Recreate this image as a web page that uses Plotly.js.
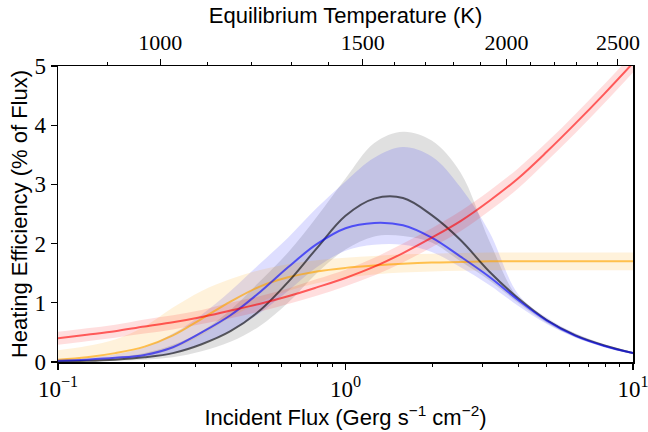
<!DOCTYPE html>
<html>
<head>
<meta charset="utf-8">
<script src="https://cdn.plot.ly/plotly-3.0.1.min.js"></script>
<style>html,body{margin:0;padding:0;background:#fff;}#chart{width:648px;height:432px;}</style>
</head>
<body>
<div id="chart"></div>
<script>
// Incident flux (Gerg s^-1 cm^-2)
const flux = [0.1, 0.126, 0.158, 0.2, 0.251, 0.316, 0.398, 0.501, 0.631, 0.794, 1.0,
              1.259, 1.585, 1.995, 2.512, 3.162, 3.981, 5.012, 6.310, 7.943, 10.0];

// Red series
const redMid = [0.40, 0.46, 0.52, 0.60, 0.67, 0.76, 0.87, 0.98, 1.11, 1.26, 1.42,
                1.61, 1.84, 2.10, 2.38, 2.72, 3.10, 3.55, 4.03, 4.53, 5.05];
const redLo  = [0.29, 0.35, 0.41, 0.48, 0.55, 0.64, 0.74, 0.85, 0.98, 1.12, 1.28,
                1.46, 1.68, 1.94, 2.21, 2.55, 2.93, 3.39, 3.87, 4.37, 4.89];
const redHi  = [0.51, 0.57, 0.63, 0.72, 0.79, 0.88, 1.00, 1.11, 1.24, 1.40, 1.56,
                1.76, 2.00, 2.26, 2.55, 2.89, 3.27, 3.71, 4.19, 4.69, 5.21];

// Orange series
const orgMid = [0.04, 0.08, 0.15, 0.26, 0.45, 0.73, 1.02, 1.27, 1.43, 1.53, 1.59,
                1.63, 1.66, 1.68, 1.69, 1.70, 1.70, 1.70, 1.70, 1.70, 1.70];
const orgLo  = [0.00, 0.01, 0.04, 0.10, 0.22, 0.45, 0.75, 1.00, 1.20, 1.33, 1.42,
                1.48, 1.51, 1.53, 1.54, 1.55, 1.55, 1.55, 1.55, 1.55, 1.55];
const orgHi  = [0.20, 0.27, 0.38, 0.60, 0.92, 1.20, 1.40, 1.55, 1.65, 1.72, 1.76,
                1.79, 1.82, 1.83, 1.84, 1.85, 1.85, 1.85, 1.85, 1.85, 1.85];

// Blue series
const bluMid = [0.02, 0.04, 0.07, 0.12, 0.25, 0.50, 0.79, 1.17, 1.60, 1.99, 2.26,
                2.35, 2.31, 2.10, 1.78, 1.44, 1.05, 0.70, 0.44, 0.27, 0.15];
const bluLo  = [0.00, 0.02, 0.04, 0.07, 0.14, 0.30, 0.52, 0.82, 1.20, 1.60, 1.88,
                1.98, 1.98, 1.86, 1.60, 1.30, 0.95, 0.64, 0.41, 0.25, 0.13];
const bluHi  = [0.04, 0.07, 0.13, 0.25, 0.48, 0.80, 1.20, 1.65, 2.10, 2.60, 3.05,
                3.45, 3.63, 3.47, 2.95, 2.20, 1.15, 0.75, 0.48, 0.30, 0.17];

// Black series
const blkMid = [0.01, 0.02, 0.04, 0.08, 0.15, 0.30, 0.52, 0.86, 1.35, 1.92, 2.47,
                2.76, 2.77, 2.48, 2.06, 1.53, 1.08, 0.71, 0.45, 0.28, 0.15];
const blkLo  = [0.00, 0.01, 0.02, 0.04, 0.08, 0.18, 0.34, 0.60, 1.00, 1.50, 1.90,
                2.12, 2.13, 2.02, 1.70, 1.38, 1.00, 0.66, 0.42, 0.26, 0.13];
const blkHi  = [0.03, 0.05, 0.08, 0.15, 0.29, 0.52, 0.88, 1.35, 1.85, 2.45, 3.10,
                3.70, 3.89, 3.74, 3.20, 2.05, 1.08, 0.73, 0.48, 0.30, 0.17];

// Axis tick labels
const xTickVals = [0.1, 1, 10];
const xTickText = ['10<sup>−1</sup>', '10<sup>0</sup>', '10<sup>1</sup>'];
const xMinor = [0.2,0.3,0.4,0.5,0.6,0.7,0.8,0.9,2,3,4,5,6,7,8,9];
const tempMajor = [1000, 1500, 2000, 2500];
const tempMinor = [900,1100,1200,1300,1400,1600,1700,1800,1900,2100,2200,2300,2400];
const yTicks = [0, 1, 2, 3, 4, 5];

// Teq -> incident flux (Gerg s^-1 cm^-2): F = 4 sigma T^4
const SIGMA = 5.670374e-8;
const tToF = T => 4 * SIGMA * Math.pow(T, 4) / 1e6;

function band(lo, hi, color) {
  return [
    {x: flux, y: lo, mode: 'lines', line: {width: 0, shape: 'spline'}, hoverinfo: 'skip', showlegend: false},
    {x: flux, y: hi, mode: 'lines', line: {width: 0, shape: 'spline'}, fill: 'tonexty', fillcolor: color, hoverinfo: 'skip', showlegend: false}
  ];
}
function line(y, color) {
  return {x: flux, y: y, mode: 'lines', line: {color: color, width: 2, shape: 'spline'}, showlegend: false};
}

const data = [].concat(
  band(blkLo, blkHi, 'rgba(0,0,0,0.12)'),
  band(bluLo, bluHi, 'rgba(0,0,255,0.13)'),
  band(orgLo, orgHi, 'rgba(255,165,0,0.14)'),
  band(redLo, redHi, 'rgba(255,0,0,0.13)'),
  [line(orgMid, 'rgba(255,165,0,0.65)'),
   line(blkMid, 'rgba(0,0,0,0.6)'),
   line(bluMid, 'rgba(0,0,255,0.6)'),
   line(redMid, 'rgba(255,0,0,0.6)'),
   {x: flux, y: redMid, xaxis: 'x2', mode: 'lines', line: {width: 0}, hoverinfo: 'skip', showlegend: false}]
);

const serif = {family: 'Liberation Serif, DejaVu Serif, serif', size: 23, color: '#000'};
const sans = {family: 'Liberation Sans, Arial, sans-serif', size: 22, color: '#000'};

const layout = {
  width: 648, height: 432,
  margin: {l: 58, r: 15, t: 66, b: 70},
  paper_bgcolor: '#fff', plot_bgcolor: '#fff',
  showlegend: false,
  xaxis: {
    type: 'log', range: [-1, 1],
    tickmode: 'array', tickvals: xTickVals, ticktext: xTickText,
    ticks: 'outside', ticklen: 6, tickwidth: 1.2, tickcolor: '#000',
    ticklabeloverflow: 'allow',
    minor: {tickmode: 'array', tickvals: xMinor, ticks: 'outside', ticklen: 3.5, tickwidth: 1, tickcolor: '#000', showgrid: false},
    showline: true, linecolor: '#000', linewidth: 1.5, mirror: true,
    showgrid: false, zeroline: false,
    tickfont: serif,
    title: {text: 'Incident Flux (Gerg s<sup>−1</sup> cm<sup>−2</sup>)', font: sans, standoff: 2}
  },
  xaxis2: {
    type: 'log', range: [-1, 1], overlaying: 'x', side: 'top', anchor: 'y',
    tickmode: 'array', tickvals: tempMajor.map(tToF), ticktext: tempMajor.map(String),
    ticks: 'outside', ticklen: 6, tickwidth: 1.2, tickcolor: '#000',
    ticklabeloverflow: 'allow',
    minor: {tickmode: 'array', tickvals: tempMinor.map(tToF), ticks: 'outside', ticklen: 3.5, tickwidth: 1, tickcolor: '#000', showgrid: false},
    showline: false, showgrid: false, zeroline: false,
    tickfont: {family: serif.family, size: 22, color: '#000'},
    title: {text: 'Equilibrium Temperature (K)', font: sans, standoff: 0}
  },
  yaxis: {
    range: [0, 5],
    tickmode: 'array', tickvals: yTicks,
    ticks: 'outside', ticklen: 6, tickwidth: 1.2, tickcolor: '#000',
    ticklabeloverflow: 'allow',
    showline: true, linecolor: '#000', linewidth: 1.5, mirror: true,
    showgrid: false, zeroline: false,
    tickfont: serif,
    title: {text: 'Heating Efficiency (% of Flux)', font: sans, standoff: 0}
  }
};

Plotly.newPlot('chart', data, layout, {staticPlot: true, displayModeBar: false});
</script>
</body>
</html>
